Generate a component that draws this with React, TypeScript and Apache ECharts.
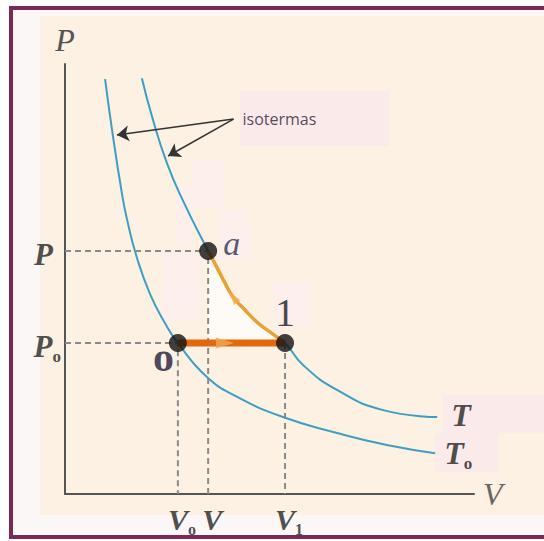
import React, { useEffect, useRef } from "react";
import * as echarts from "echarts";

// ---- data (V, P in arbitrary units; axes 0..10) ----
const isoT0V = [0.98, 1.15, 1.39, 1.52, 1.76, 2.08, 2.44, 2.76, 3.47, 4.21, 5.33, 6.65, 7.87, 9.05];
const isoT0P = [9.65, 8.47, 7.0, 6.37, 5.49, 4.65, 3.98, 3.51, 2.72, 2.26, 1.79, 1.42, 1.14, 0.95];

const isoTV = [1.88, 2.13, 2.49, 2.89, 3.5, 3.72, 3.91, 4.11, 4.35, 4.69, 5.01, 5.38, 5.82, 6.65, 7.78, 9.1];
const isoTP = [9.67, 8.77, 7.7, 6.81, 5.65, 5.26, 4.91, 4.58, 4.33, 4.0, 3.77, 3.51, 3.0, 2.42, 1.95, 1.79];

// process 1 -> a (orange curve)
const pathV = [3.5, 3.72, 3.91, 4.11, 4.35, 4.69, 5.01, 5.38];
const pathP = [5.65, 5.26, 4.91, 4.58, 4.33, 4.0, 3.77, 3.51];

// states
const stateNames = ["o", "a", "1"];
const stateV = [2.76, 3.5, 5.38];
const stateP = [3.51, 5.65, 3.51];

// tick labels
const vTickMain = ["V", "V", "V"];
const vTickSub = ["o", "", "1"];
const vTickValues = [stateV[0], stateV[1], stateV[2]];
const pTickMain = ["P", "P"];
const pTickSub = ["", "o"];
const pTickValues = [stateP[1], stateP[0]];

// isotherm names
const isoMain = ["T", "T"];
const isoSub = ["", "o"];

// annotation
const isoNote = "isotermas";
const isoArrowStart = [4.12, 8.72];
const isoArrowEnds = [
  [1.27, 8.35],
  [2.52, 7.86],
];
const horizArrowV = 3.91;

const SERIF = "Liberation Serif, DejaVu Serif, serif";

const zip = (a: number[], b: number[]) => a.map((v, i) => [v, b[i]]);
const sub = (m: string, s: string) => (s ? `{m|${m}}{s|${s}}` : `{m|${m}}`);

export default function App() {
  const ref = useRef<HTMLDivElement>(null);
  useEffect(() => {
    if (!ref.current) return;
    const chart = echarts.init(ref.current, undefined, { renderer: "svg" });

    const richBold = (size: number, subSize: number, color = "#222") => ({
      m: { fontFamily: SERIF, fontStyle: "italic", fontWeight: "bold", fontSize: size, color },
      s: {
        fontFamily: SERIF,
        fontWeight: "bold",
        fontSize: subSize,
        color,
        verticalAlign: "bottom",
        padding: [0, 0, -3, 0],
      },
    });

    const [V0, Va, V1] = stateV;
    const [P0, Pa, P1] = stateP;

    const patch = (x: number, y: number, w: number, h: number, fill = "#fbeaea") => ({
      type: "rect",
      z: 0,
      shape: { x, y, width: w, height: h },
      style: { fill },
    });

    const option: any = {
      animation: false,
      backgroundColor: "#ffffff",
      grid: { left: 65, right: 70, top: 64, bottom: 47, containLabel: false },
      xAxis: {
        type: "value",
        min: 0,
        max: 10,
        name: "V",
        nameLocation: "end",
        nameGap: 9,
        nameTextStyle: { fontFamily: SERIF, fontStyle: "italic", fontSize: 32, color: "#666" },
        axisLine: { show: true, lineStyle: { color: "#555", width: 2 } },
        axisTick: { show: false },
        axisLabel: { show: false },
        splitLine: { show: false },
      },
      yAxis: {
        type: "value",
        min: 0,
        max: 10,
        name: "P",
        nameLocation: "end",
        nameGap: 8,
        nameTextStyle: { fontFamily: SERIF, fontStyle: "italic", fontSize: 32, color: "#555", align: "center" },
        axisLine: { show: true, lineStyle: { color: "#555", width: 2 } },
        axisTick: { show: false },
        axisLabel: { show: false },
        splitLine: { show: false },
      },
      graphic: [
        { type: "rect", z: 0, shape: { x: 11, y: 8, width: 620, height: 529 }, style: { fill: "#fcf7f7", stroke: "#7b2a55", lineWidth: 4 } },
        { type: "rect", z: 0, shape: { x: 40, y: 16, width: 510, height: 499 }, style: { fill: "#fdf1e3" } },
        // faint pink patches
        patch(240, 91, 149, 55),
        patch(443, 395, 110, 38),
        patch(435, 433, 64, 39),
        patch(193, 160, 32, 48, "#fcefec"),
        patch(175, 185, 18, 60, "#fcefec"),
        patch(218, 210, 32, 50, "#fcefec"),
        patch(273, 282, 39, 45, "#fcefec"),
        patch(163, 250, 37, 70, "#fcefec"),
      ],
      series: [
        {
          type: "line",
          name: "T0",
          data: zip(isoT0V, isoT0P),
          smooth: 0.5,
          symbol: "none",
          lineStyle: { color: "#3d9fc3", width: 2 },
          z: 3,
        },
        {
          type: "line",
          name: "T",
          data: zip(isoTV, isoTP),
          smooth: 0.5,
          symbol: "none",
          lineStyle: { color: "#3d9fc3", width: 2 },
          z: 3,
        },
        {
          type: "line",
          data: zip(pathV, pathP),
          smooth: 0.5,
          symbol: "none",
          lineStyle: { width: 0, opacity: 0 },
          areaStyle: { color: "rgba(255,255,255,0.9)", origin: P0 },
          z: 2,
        },
        {
          type: "line",
          data: [
            [0, Pa],
            [Va, Pa],
            [Va, 0],
          ],
          symbol: "none",
          lineStyle: { color: "#8a8a8a", width: 2, type: [6, 4] },
          z: 3,
        },
        {
          type: "line",
          data: [
            [0, P0],
            [V0, P0],
            [V0, 0],
          ],
          symbol: "none",
          lineStyle: { color: "#8a8a8a", width: 2, type: [6, 4] },
          z: 3,
        },
        {
          type: "line",
          data: [
            [V1, P1],
            [V1, 0],
          ],
          symbol: "none",
          lineStyle: { color: "#8a8a8a", width: 2, type: [6, 4] },
          z: 3,
        },
        {
          type: "line",
          data: zip(pathV, pathP),
          smooth: 0.5,
          symbol: "none",
          lineStyle: { color: "#e9a035", width: 3.5 },
          z: 5,
        },
        {
          type: "line",
          data: [
            [V0, P0],
            [V1, P1],
          ],
          symbol: "none",
          lineStyle: { color: "#e2680f", width: 7 },
          z: 5,
        },
        {
          type: "scatter",
          symbol: "triangle",
          clip: false,
          data: [
            { value: [horizArrowV, P0], symbolRotate: -90, symbolSize: [11, 18], itemStyle: { color: "#f5a555" } },
            { value: [pathV[3], pathP[3]], symbolRotate: 36, symbolSize: [8, 14], itemStyle: { color: "#f2ac4c" } },
          ],
          z: 6,
        },
        {
          type: "lines",
          coordinateSystem: "cartesian2d",
          data: isoArrowEnds.map((e) => ({ coords: [isoArrowStart, e] })),
          symbol: ["none", "arrow"],
          symbolSize: 12,
          lineStyle: { color: "#333", width: 1.5, opacity: 1 },
          z: 6,
        },
        {
          type: "scatter",
          clip: false,
          symbolSize: 0,
          data: [isoArrowStart],
          label: {
            show: true,
            position: "right",
            distance: 9,
            formatter: isoNote,
            fontFamily: "Open Sans, sans-serif",
            fontSize: 16,
            color: "#2a1a3a",
          },
          z: 7,
        },
        // state points
        {
          type: "scatter",
          clip: false,
          symbolSize: 18,
          itemStyle: { color: "#111" },
          data: [
            {
              value: [V0, P0],
              label: {
                show: true,
                position: "left",
                distance: -5,
                offset: [0, 14],
                formatter: stateNames[0],
                fontFamily: SERIF,
                fontWeight: "bold",
                fontSize: 42,
                color: "#1c1c3a",
              },
            },
            {
              value: [Va, Pa],
              label: {
                show: true,
                position: "right",
                distance: 6,
                offset: [0, -8],
                formatter: stateNames[1],
                fontFamily: SERIF,
                fontStyle: "italic",
                fontSize: 34,
                color: "#2b3050",
              },
            },
            {
              value: [V1, P1],
              label: {
                show: true,
                position: "top",
                distance: 2,
                offset: [0, 0],
                formatter: stateNames[2],
                fontFamily: SERIF,
                fontSize: 40,
                color: "#1a1a1a",
              },
            },
          ],
          z: 8,
        },
        // V tick labels
        {
          type: "scatter",
          clip: false,
          symbolSize: 0,
          data: vTickValues.map((v, i) => ({
            value: [v, 0],
            label: {
              show: true,
              position: "bottom",
              distance: 10,
              offset: [4, 0],
              formatter: sub(vTickMain[i], vTickSub[i]),
              rich: richBold(30, 16),
            },
          })),
          z: 8,
        },
        // P tick labels
        {
          type: "scatter",
          clip: false,
          symbolSize: 0,
          data: pTickValues.map((p, i) => ({
            value: [0, p],
            label: {
              show: true,
              position: "left",
              distance: i === 0 ? 12 : 4,
              offset: [0, 3],
              formatter: sub(pTickMain[i], pTickSub[i]),
              rich: richBold(31, 17),
            },
          })),
          z: 8,
        },
        // isotherm names
        {
          type: "scatter",
          clip: false,
          symbolSize: 0,
          data: [
            { value: [isoTV[isoTV.length - 1], isoTP[isoTP.length - 1]], label: { formatter: sub(isoMain[0], isoSub[0]), distance: 14, offset: [0, -2] } },
            { value: [isoT0V[isoT0V.length - 1], isoT0P[isoT0P.length - 1]], label: { formatter: sub(isoMain[1], isoSub[1]), distance: 9, offset: [0, 0] } },
          ],
          label: { show: true, position: "right", rich: richBold(32, 17) },
          z: 8,
        },
      ],
    };
    chart.setOption(option);
    return () => chart.dispose();
  }, []);
  return <div ref={ref} style={{ position: "absolute", left: 0, top: 0, width: 544, height: 541 }} />;
}
